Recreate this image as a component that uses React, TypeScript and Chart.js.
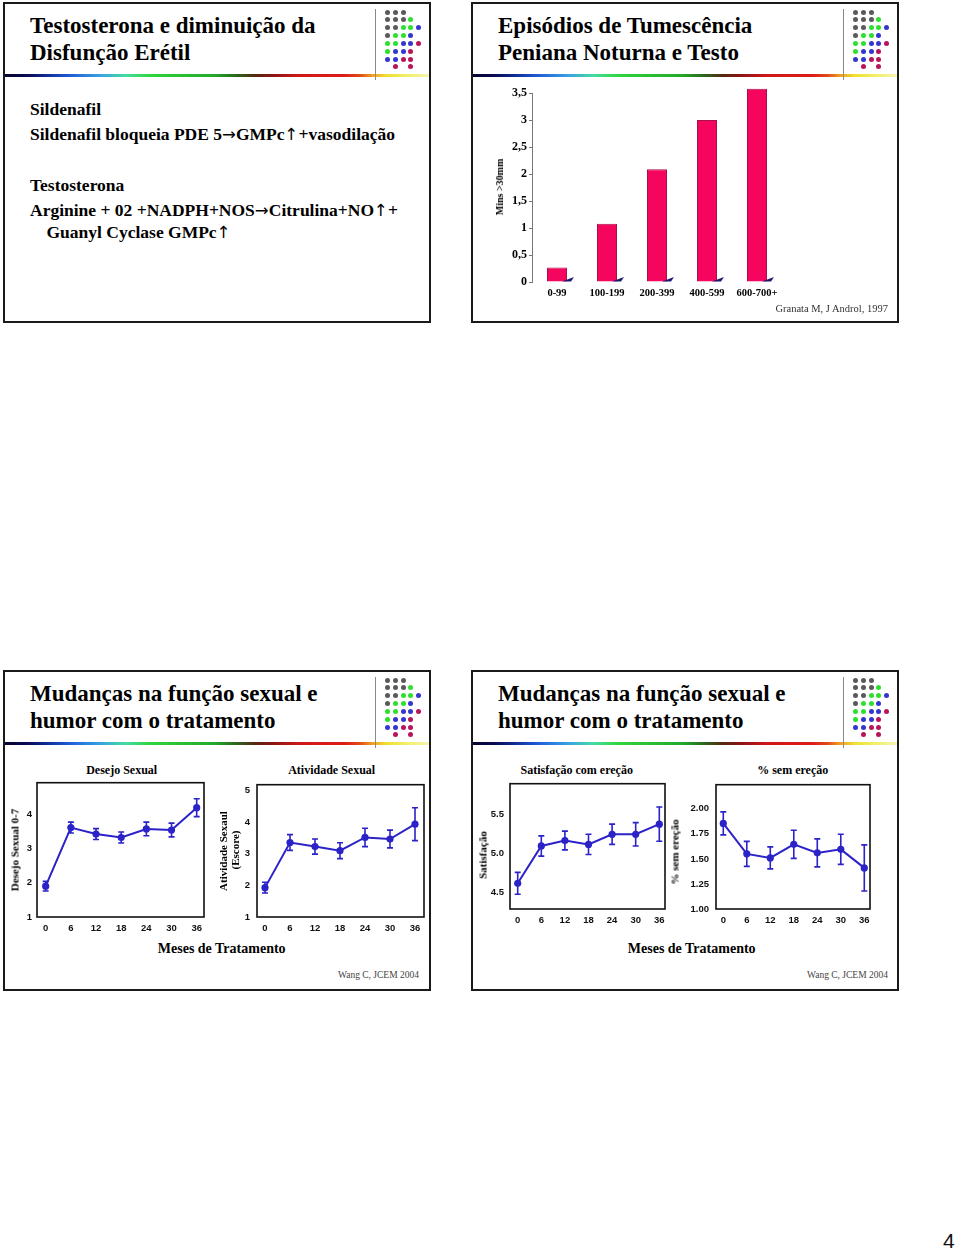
import React, { useEffect, useRef } from 'react';
import { Chart, registerables } from 'chart.js';

Chart.register(...registerables);

const SERIF = "'Liberation Serif', 'Times New Roman', Times, serif";
const SANS = "'Liberation Sans', Arial, Helvetica, sans-serif";
const ARROW = "'DejaVu Sans', 'Noto Sans', sans-serif";

// ---------- Data ----------
const barCategories = ['0-99', '100-199', '200-399', '400-599', '600-700+'];
const barValues = [0.27, 1.08, 2.09, 3.0, 3.58];
const barYTicks = [0, 0.5, 1, 1.5, 2, 2.5, 3, 3.5];

const months = [0, 6, 12, 18, 24, 30, 36];

const desejoValues = [1.9, 3.61, 3.42, 3.32, 3.57, 3.54, 4.19];
const desejoErrors = [0.14, 0.16, 0.16, 0.16, 0.2, 0.2, 0.26];
const desejoTicks = [1, 2, 3, 4];

const atividadeValues = [1.93, 3.36, 3.23, 3.1, 3.52, 3.47, 3.94];
const atividadeErrors = [0.17, 0.25, 0.24, 0.25, 0.29, 0.28, 0.52];
const atividadeTicks = [1, 2, 3, 4, 5];

const satisfacaoValues = [4.61, 5.09, 5.16, 5.11, 5.24, 5.24, 5.37];
const satisfacaoErrors = [0.14, 0.13, 0.12, 0.13, 0.13, 0.15, 0.22];
const satisfacaoTicks = [4.5, 5.0, 5.5];

const semErecaoValues = [1.854, 1.55, 1.51, 1.645, 1.56, 1.595, 1.41];
const semErecaoErrors = [0.115, 0.125, 0.11, 0.14, 0.14, 0.15, 0.23];
const semErecaoTicks = [1.0, 1.25, 1.5, 1.75, 2.0];

const dotRows = ['ggg', 'gggG', 'ggGGb', 'gGGb', 'GGbbm', 'Gbbm', 'bbmm', '.m.m'];
const dotColors: Record<string, string> = { g: '#5a5a5a', G: '#2ee02e', b: '#3535d0', m: '#b8145a' };

const BLUE = '#2b22c8';
const BAR_COLOR = '#f5055d';

// ---------- Plugins ----------
const errorBarPlugin = {
  id: 'errorBars',
  beforeDatasetsDraw(chart: any, _args: any, opts: any) {
    const errs: number[] = opts && opts.errors;
    if (!errs) return;
    const ctx = chart.ctx;
    const xs = chart.scales.x;
    const ys = chart.scales.y;
    const ds = chart.data.datasets[0];
    ctx.save();
    ctx.strokeStyle = opts.color || BLUE;
    ctx.lineWidth = 1.6;
    ds.data.forEach((pt: any, i: number) => {
      const x = xs.getPixelForValue(pt.x);
      const yT = ys.getPixelForValue(pt.y + errs[i]);
      const yB = ys.getPixelForValue(pt.y - errs[i]);
      ctx.beginPath();
      ctx.moveTo(x, yT);
      ctx.lineTo(x, yB);
      ctx.moveTo(x - 3, yT);
      ctx.lineTo(x + 3, yT);
      ctx.moveTo(x - 3, yB);
      ctx.lineTo(x + 3, yB);
      ctx.stroke();
    });
    ctx.restore();
  },
};

const boxPlugin = {
  id: 'plotBox',
  afterDraw(chart: any) {
    const { left, right, top, bottom } = chart.chartArea;
    const ctx = chart.ctx;
    ctx.save();
    ctx.strokeStyle = '#111';
    ctx.lineWidth = 1.6;
    ctx.strokeRect(left, top, right - left, bottom - top);
    ctx.restore();
  },
};

const barShadowPlugin = {
  id: 'barShadow',
  afterDatasetsDraw(chart: any) {
    const meta = chart.getDatasetMeta(0);
    const ctx = chart.ctx;
    ctx.save();
    ctx.fillStyle = '#1c1a6e';
    meta.data.forEach((el: any) => {
      const p = el.getProps(['x', 'width', 'base'], true);
      const right = p.x + p.width / 2;
      const base = p.base;
      ctx.beginPath();
      ctx.moveTo(right - 5, base);
      ctx.lineTo(right + 7, base - 4.5);
      ctx.lineTo(right + 4, base);
      ctx.closePath();
      ctx.fill();
    });
    ctx.restore();
  },
};

// ---------- Bar chart ----------
function BarChart() {
  const ref = useRef<HTMLCanvasElement>(null);
  useEffect(() => {
    const chart = new Chart(ref.current as HTMLCanvasElement, {
      type: 'bar',
      data: {
        labels: barCategories,
        datasets: [
          {
            data: barValues,
            backgroundColor: BAR_COLOR,
            borderColor: '#a8104a',
            borderWidth: 1,
            barPercentage: 0.4,
            categoryPercentage: 1,
            clip: false,
          } as any,
        ],
      },
      options: {
        responsive: false,
        animation: false,
        layout: { padding: { top: 10, right: 10, left: 0, bottom: 0 } },
        plugins: { legend: { display: false }, tooltip: { enabled: false } },
        scales: {
          x: {
            grid: { display: false, drawTicks: false },
            border: { display: false },
            ticks: {
              color: '#000',
              font: { family: SERIF, size: 10.5, weight: 'bold' },
              padding: 5,
              maxRotation: 0,
              autoSkip: false,
            },
            afterFit: (s: any) => {
              s.height = 23;
            },
          },
          y: {
            min: 0,
            max: 3.5,
            grid: { drawOnChartArea: false, drawTicks: true, tickLength: 3, color: '#777' },
            border: { color: '#777', width: 1 },
            ticks: {
              color: '#000',
              font: { family: SERIF, size: 12, weight: 'bold' },
              padding: 2,
              callback: (v: any) => String(v).replace('.', ','),
            },
            afterBuildTicks: (s: any) => {
              s.ticks = barYTicks.map((v) => ({ value: v }));
            },
            afterFit: (s: any) => {
              s.width = 52;
            },
          },
        },
      } as any,
      plugins: [barShadowPlugin],
    });
    return () => chart.destroy();
  }, []);
  return (
    <canvas
      ref={ref}
      width={312}
      height={222}
      style={{ position: 'absolute', left: 480, top: 83, width: 312, height: 222, display: 'block' }}
    />
  );
}

// ---------- Line charts ----------
type Panel = {
  box: { l: number; r: number; t: number; b: number };
  xMin: number;
  xMax: number;
  yMin: number;
  yMax: number;
  values: number[];
  errors: number[];
  yTicks: number[];
  decimals: number;
  yPad: number;
};

const panels: Panel[] = [
  { box: { l: 37, r: 204, t: 778, b: 917 }, xMin: -2.07, xMax: 37.74, yMin: 1, yMax: 4.92, values: desejoValues, errors: desejoErrors, yTicks: desejoTicks, decimals: 0, yPad: 5 },
  { box: { l: 257, r: 424, t: 778, b: 917 }, xMin: -1.92, xMax: 38.16, yMin: 1, yMax: 5.19, values: atividadeValues, errors: atividadeErrors, yTicks: atividadeTicks, decimals: 0, yPad: 7 },
  { box: { l: 510, r: 665, t: 778, b: 909 }, xMin: -1.96, xMax: 37.45, yMin: 4.28, yMax: 5.89, values: satisfacaoValues, errors: satisfacaoErrors, yTicks: satisfacaoTicks, decimals: 1, yPad: 6 },
  { box: { l: 716, r: 870, t: 778, b: 909 }, xMin: -1.86, xMax: 37.46, yMin: 1, yMax: 2.24, values: semErecaoValues, errors: semErecaoErrors, yTicks: semErecaoTicks, decimals: 2, yPad: 7 },
];

const Y_W = 30;
const X_H = 22;
const PAD_T = 6;
const PAD_R = 6;

function LinePanel({ p }: { p: Panel }) {
  const ref = useRef<HTMLCanvasElement>(null);
  const width = p.box.r - p.box.l + Y_W + PAD_R;
  const height = p.box.b - p.box.t + PAD_T + X_H;
  useEffect(() => {
    const tickFont = { family: SANS, size: 9.5, weight: 'bold' };
    const chart = new Chart(ref.current as HTMLCanvasElement, {
      type: 'line',
      data: {
        datasets: [
          {
            data: months.map((m, i) => ({ x: m, y: p.values[i] })),
            borderColor: BLUE,
            backgroundColor: BLUE,
            borderWidth: 2,
            pointRadius: 3.6,
            pointBackgroundColor: BLUE,
            pointBorderWidth: 0,
            tension: 0,
          },
        ],
      },
      options: {
        responsive: false,
        animation: false,
        layout: { padding: { top: PAD_T, right: PAD_R, left: 0, bottom: 0 } },
        plugins: {
          legend: { display: false },
          tooltip: { enabled: false },
          errorBars: { errors: p.errors, color: BLUE },
        },
        scales: {
          x: {
            type: 'linear',
            min: p.xMin,
            max: p.xMax,
            grid: { display: false, drawTicks: false },
            border: { display: false },
            ticks: { color: '#111', font: tickFont, padding: 6, maxRotation: 0, autoSkip: false },
            afterBuildTicks: (s: any) => {
              s.ticks = months.map((v) => ({ value: v }));
            },
            afterFit: (s: any) => {
              s.height = X_H;
            },
          },
          y: {
            type: 'linear',
            min: p.yMin,
            max: p.yMax,
            grid: { display: false, drawTicks: false },
            border: { display: false },
            ticks: {
              color: '#111',
              font: tickFont,
              padding: p.yPad,
              callback: (v: any) => Number(v).toFixed(p.decimals),
            },
            afterBuildTicks: (s: any) => {
              s.ticks = p.yTicks.map((v) => ({ value: v }));
            },
            afterFit: (s: any) => {
              s.width = Y_W;
            },
          },
        },
      } as any,
      plugins: [errorBarPlugin, boxPlugin],
    });
    return () => chart.destroy();
  }, []);
  return (
    <canvas
      ref={ref}
      width={width}
      height={height}
      style={{
        position: 'absolute',
        left: p.box.l - Y_W,
        top: p.box.t - PAD_T,
        width,
        height,
        display: 'block',
      }}
    />
  );
}

// ---------- Slide frame ----------
function Slide({ dx, dy, title }: { dx: number; dy: number; title: string[] }) {
  const dots: React.ReactNode[] = [];
  dotRows.forEach((row, r) => {
    row.split('').forEach((ch, c) => {
      if (ch === '.') return;
      dots.push(
        <div
          key={`${r}-${c}`}
          style={{
            position: 'absolute',
            left: 387.7 + 7.7 * c - 2.5 + dx,
            top: 12 + 7.85 * r - 2.5 + dy,
            width: 5,
            height: 5,
            borderRadius: '50%',
            background: dotColors[ch],
          }}
        />
      );
    });
  });
  return (
    <>
      <div
        style={{
          position: 'absolute',
          left: 3 + dx,
          top: 2 + dy,
          width: 428,
          height: 321,
          border: '2px solid #1a1a1a',
          boxSizing: 'border-box',
        }}
      />
      <div
        style={{
          position: 'absolute',
          left: 5 + dx,
          top: 74 + dy,
          width: 424,
          height: 3,
          background:
            'linear-gradient(to right, #050530 0%, #0a0a50 5%, #0f2a90 9.6%, #1e5ad8 15%, #38a2e2 22.5%, #44dca2 28.4%, #2ed63c 34.3%, #24a82a 49.5%, #2a6a1e 54.2%, #55280f 59%, #8a1414 63%, #d01818 69.5%, #dc1c18 80%, #e04a1a 83.6%, #f09a22 86.4%, #f0e030 90%, #f2ef6a 95%, #f6f4b0 100%)',
        }}
      />
      <div style={{ position: 'absolute', left: 375 + dx, top: 9 + dy, width: 1, height: 71, background: '#8a8a8a' }} />
      {dots}
      <div
        style={{
          position: 'absolute',
          left: 30 + dx,
          top: 13 + dy,
          fontFamily: SERIF,
          fontWeight: 'bold',
          fontSize: 23,
          lineHeight: '26.7px',
          whiteSpace: 'nowrap',
          color: '#000',
        }}
      >
        {title.map((t, i) => (
          <div key={i}>{t}</div>
        ))}
      </div>
    </>
  );
}

function Txt({
  x,
  y,
  size,
  bold,
  color,
  align,
  family,
  children,
}: {
  x: number;
  y: number;
  size: number;
  bold?: boolean;
  color?: string;
  align?: 'left' | 'center' | 'right';
  family?: string;
  children: React.ReactNode;
}) {
  const a = align || 'left';
  const tx = a === 'center' ? '-50%' : a === 'right' ? '-100%' : '0';
  return (
    <div
      style={{
        position: 'absolute',
        left: x,
        top: y - size / 2,
        transform: `translateX(${tx})`,
        fontFamily: family || SERIF,
        fontWeight: bold ? 'bold' : 'normal',
        fontSize: size,
        lineHeight: `${size}px`,
        whiteSpace: 'nowrap',
        color: color || '#000',
      }}
    >
      {children}
    </div>
  );
}

function VTxt({ x, y, size, children }: { x: number; y: number; size: number; children: React.ReactNode }) {
  return (
    <div
      style={{
        position: 'absolute',
        left: x,
        top: y,
        transform: 'translate(-50%, -50%) rotate(-90deg)',
        fontFamily: SERIF,
        fontWeight: 'bold',
        fontSize: size,
        lineHeight: `${size}px`,
        whiteSpace: 'nowrap',
        color: '#000',
      }}
    >
      {children}
    </div>
  );
}

function Arr({ c }: { c: string }) {
  return <span style={{ fontFamily: ARROW, fontWeight: 'normal', fontSize: '0.95em' }}>{c}</span>;
}

function BodyLine({ x, baseline, children }: { x: number; baseline: number; children: React.ReactNode }) {
  return (
    <div
      style={{
        position: 'absolute',
        left: x,
        top: baseline - 16.4,
        fontFamily: SERIF,
        fontWeight: 'bold',
        fontSize: 17.5,
        lineHeight: '21px',
        whiteSpace: 'nowrap',
        color: '#000',
      }}
    >
      {children}
    </div>
  );
}

export default function App() {
  useEffect(() => {
    document.body.style.margin = '0';
  }, []);
  return (
    <div style={{ position: 'absolute', left: 0, top: 0, width: 960, height: 1251, overflow: 'hidden', background: '#fff' }}>
      {/* Slide 1 */}
      <Slide dx={0} dy={0} title={['Testosterona e diminuição da', 'Disfunção Erétil']} />
      <BodyLine x={30} baseline={115}>Sildenafil</BodyLine>
      <BodyLine x={30} baseline={140}>
        Sildenafil bloqueia PDE 5<Arr c="→" />GMPc<Arr c="↑" />+vasodilação
      </BodyLine>
      <BodyLine x={30} baseline={191.7}>Testosterona</BodyLine>
      <BodyLine x={30} baseline={216.7}>
        Arginine + 02 +NADPH+NOS<Arr c="→" />Citrulina+NO<Arr c="↑" />+
      </BodyLine>
      <BodyLine x={46.5} baseline={238.3}>
        Guanyl Cyclase GMPc<Arr c="↑" />
      </BodyLine>

      {/* Slide 2 */}
      <Slide dx={468} dy={0} title={['Episódios de Tumescência', 'Peniana Noturna e Testo']} />
      <BarChart />
      <VTxt x={500} y={186.5} size={10}>Mins &gt;30mm</VTxt>
      <Txt x={888} y={309.5} size={10.5} align="right" color="#333">Granata M, J Androl, 1997</Txt>

      {/* Slide 3 */}
      <Slide dx={0} dy={668} title={['Mudanças na função sexual e', 'humor com o tratamento']} />
      <Txt x={121.7} y={770} size={12} bold align="center">Desejo Sexual</Txt>
      <Txt x={331.7} y={770} size={12} bold align="center">Atividade Sexual</Txt>
      <LinePanel p={panels[0]} />
      <LinePanel p={panels[1]} />
      <VTxt x={15} y={850} size={11}>Desejo Sexual 0-7</VTxt>
      <VTxt x={223.3} y={850.5} size={11}>Atividade Sexaul</VTxt>
      <VTxt x={235.3} y={850} size={11}>(Escore)</VTxt>
      <Txt x={221.7} y={948.5} size={14} bold align="center">Meses de Tratamento</Txt>
      <Txt x={419} y={976} size={9.5} align="right" color="#444">Wang C, JCEM 2004</Txt>

      {/* Slide 4 */}
      <Slide dx={468} dy={668} title={['Mudanças na função sexual e', 'humor com o tratamento']} />
      <Txt x={576.7} y={770} size={12} bold align="center">Satisfação com ereção</Txt>
      <Txt x={792.7} y={770} size={12} bold align="center">% sem ereção</Txt>
      <LinePanel p={panels[2]} />
      <LinePanel p={panels[3]} />
      <VTxt x={483.3} y={855} size={11}>Satisfação</VTxt>
      <VTxt x={675} y={851.5} size={11}>% sem ereção</VTxt>
      <Txt x={691.7} y={949} size={14} bold align="center">Meses de Tratamento</Txt>
      <Txt x={888} y={976} size={9.5} align="right" color="#444">Wang C, JCEM 2004</Txt>

      {/* Page number */}
      <div
        style={{
          position: 'absolute',
          left: 943,
          top: 1229,
          fontFamily: SANS,
          fontSize: 21,
          lineHeight: '24px',
          color: '#111',
        }}
      >
        4
      </div>
    </div>
  );
}
